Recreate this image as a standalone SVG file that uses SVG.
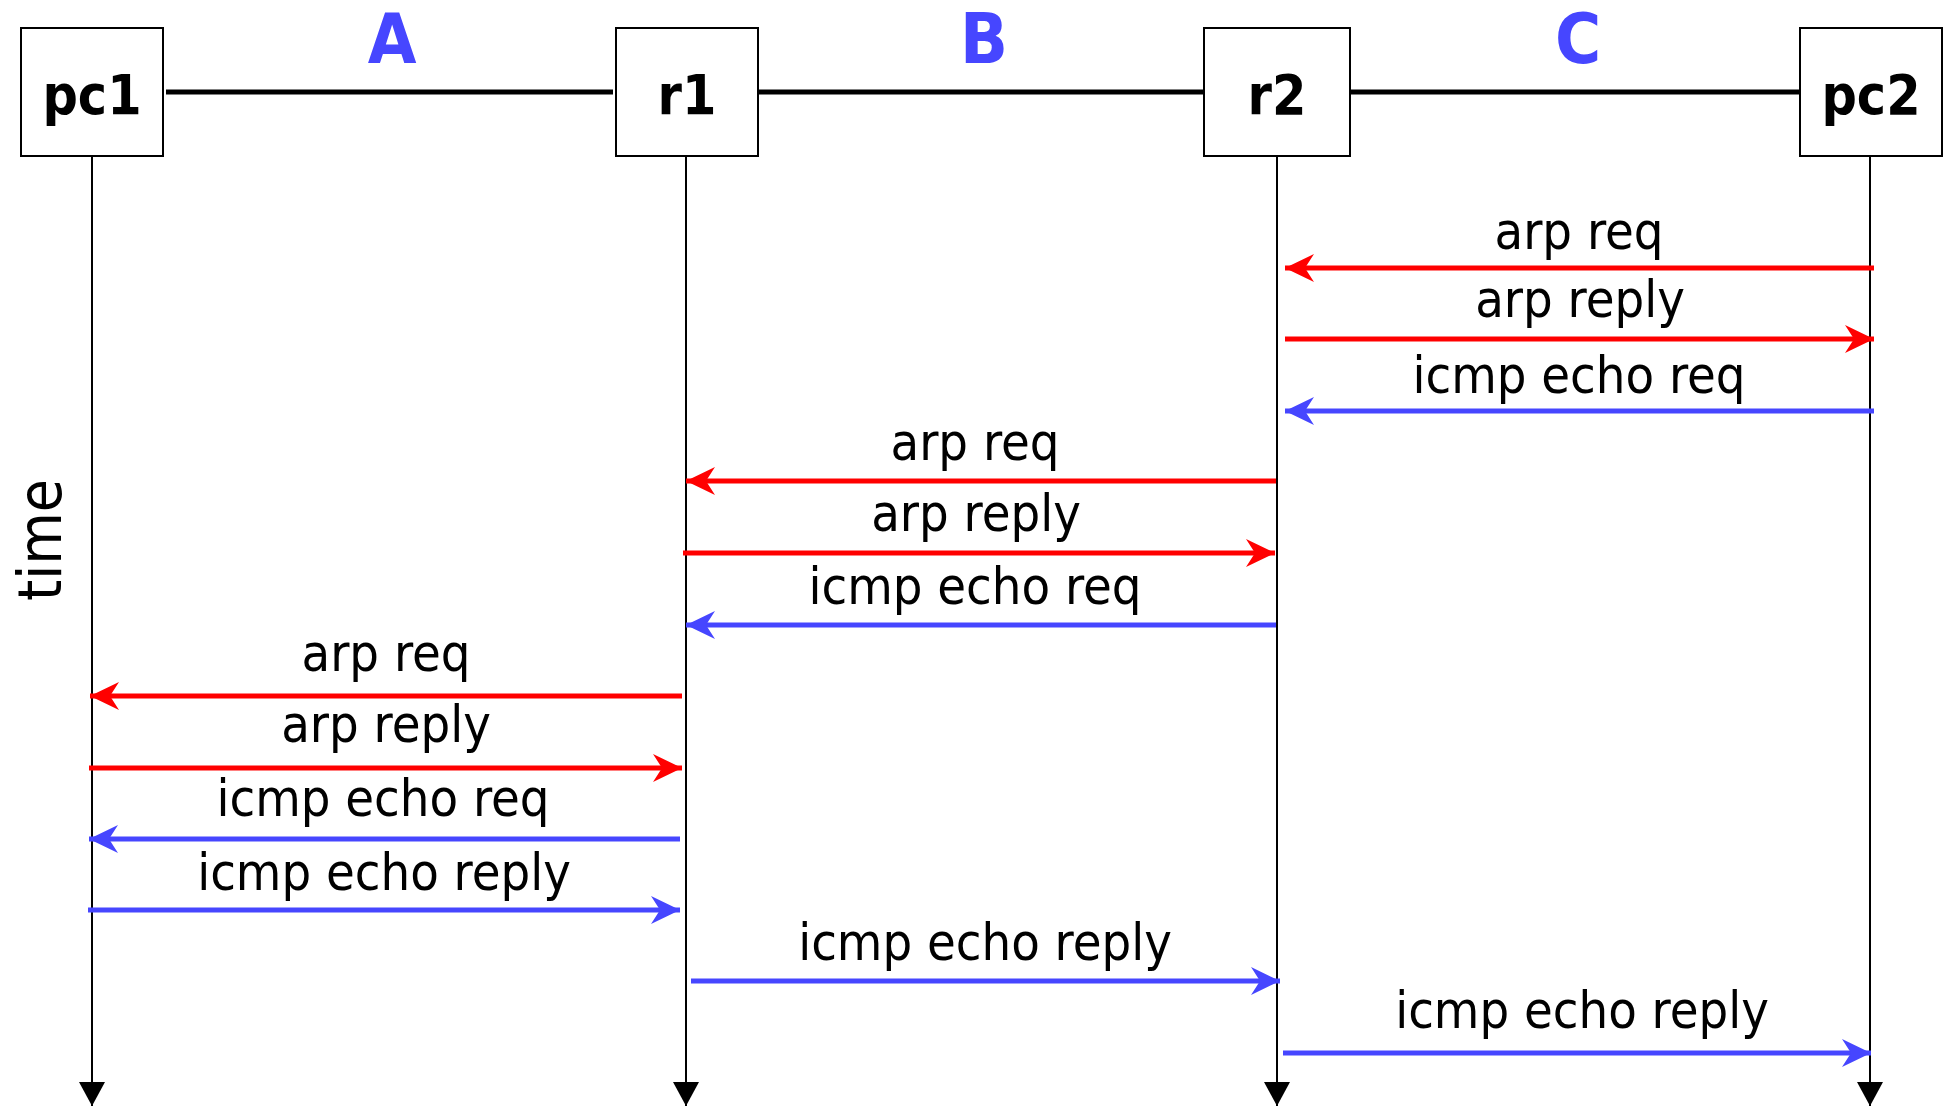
<svg xmlns="http://www.w3.org/2000/svg" width="1945" height="1106" viewBox="0 0 1945 1106">
  <style>
    .box { fill: #ffffff; stroke: #000000; stroke-width: 2; }
    .node-label { font-family: "DejaVu Sans Condensed", "DejaVu Sans", sans-serif; font-stretch: condensed; font-weight: bold; font-size: 55px; text-anchor: middle; fill: #000000; }
    .seg-label { font-family: "DejaVu Sans Condensed", "DejaVu Sans", sans-serif; font-stretch: condensed; font-weight: bold; font-size: 70px; text-anchor: middle; fill: #4646ff; }
    .msg-label { font-family: "DejaVu Sans Condensed", "DejaVu Sans", sans-serif; font-stretch: condensed; font-size: 52px; text-anchor: middle; fill: #000000; }
    .axis-label { font-family: "DejaVu Sans Condensed", "DejaVu Sans", sans-serif; font-stretch: condensed; font-size: 60px; text-anchor: middle; fill: #000000; }
    .link { stroke: #000000; stroke-width: 5; }
    .lifeline { stroke: #000000; stroke-width: 2; fill: none; marker-end: url(#tick); }
    .arp { stroke: #ff0000; stroke-width: 5; fill: none; marker-end: url(#head-red); }
    .icmp { stroke: #4646ff; stroke-width: 5; fill: none; marker-end: url(#head-blue); }
  </style>
  <defs>
    <marker id="head-red" markerUnits="userSpaceOnUse" viewBox="-30 -15 32 30" refX="0" refY="0" markerWidth="32" markerHeight="30" orient="auto">
      <path d="M0,0 L-29,-14 L-20,0 L-29,14 Z" fill="#ff0000"/>
    </marker>
    <marker id="head-blue" markerUnits="userSpaceOnUse" viewBox="-30 -15 32 30" refX="0" refY="0" markerWidth="32" markerHeight="30" orient="auto">
      <path d="M0,0 L-29,-14 L-20,0 L-29,14 Z" fill="#4646ff"/>
    </marker>
    <marker id="tick" markerUnits="userSpaceOnUse" viewBox="-26 -14 28 28" refX="0" refY="0" markerWidth="28" markerHeight="28" orient="auto">
      <path d="M0,0 L-24,-13 L-24,13 Z" fill="#000000"/>
    </marker>
  </defs>

  <rect width="1945" height="1106" fill="#ffffff"/>

  <!-- network links between hosts -->
  <g id="links">
    <line class="link" x1="166" y1="92" x2="613" y2="92"/>
    <line class="link" x1="757" y1="92" x2="1203" y2="92"/>
    <line class="link" x1="1351" y1="92" x2="1799" y2="92"/>
    <text class="seg-label" x="392" y="63">A</text>
    <text class="seg-label" x="984" y="63">B</text>
    <text class="seg-label" x="1578" y="63">C</text>
  </g>

  <!-- lifelines running down the time axis -->
  <g id="lifelines">
    <line class="lifeline" x1="92" y1="156" x2="92" y2="1106"/>
    <line class="lifeline" x1="686" y1="156" x2="686" y2="1106"/>
    <line class="lifeline" x1="1277" y1="156" x2="1277" y2="1106"/>
    <line class="lifeline" x1="1870" y1="156" x2="1870" y2="1106"/>
  </g>

  <g id="pc1">
    <rect class="box" x="21" y="28" width="142" height="128"/>
    <text class="node-label" x="92" y="114">pc1</text>
  </g>
  <g id="r1">
    <rect class="box" x="616" y="28" width="142" height="128"/>
    <text class="node-label" x="687" y="114">r1</text>
  </g>
  <g id="r2">
    <rect class="box" x="1204" y="28" width="146" height="128"/>
    <text class="node-label" x="1277" y="114">r2</text>
  </g>
  <g id="pc2">
    <rect class="box" x="1800" y="28" width="142" height="128"/>
    <text class="node-label" x="1871" y="114">pc2</text>
  </g>

  <text class="axis-label" transform="translate(61,540) rotate(-90)">time</text>

  <!-- messages -->
  <g id="connectors">
    <line class="arp" x1="1874" y1="268" x2="1285" y2="268"/>
    <text class="msg-label" x="1579" y="249">arp req</text>

    <line class="arp" x1="1285" y1="339" x2="1874" y2="339"/>
    <text class="msg-label" x="1580" y="317">arp reply</text>

    <line class="icmp" x1="1874" y1="411" x2="1285" y2="411"/>
    <text class="msg-label" x="1579" y="393">icmp echo req</text>

    <line class="arp" x1="1276" y1="481" x2="686" y2="481"/>
    <text class="msg-label" x="975" y="460">arp req</text>

    <line class="arp" x1="683" y1="553" x2="1275" y2="553"/>
    <text class="msg-label" x="976" y="531">arp reply</text>

    <line class="icmp" x1="1276" y1="625" x2="686" y2="625"/>
    <text class="msg-label" x="975" y="604">icmp echo req</text>

    <line class="arp" x1="682" y1="696" x2="90" y2="696"/>
    <text class="msg-label" x="386" y="671">arp req</text>

    <line class="arp" x1="89" y1="768" x2="682" y2="768"/>
    <text class="msg-label" x="386" y="742">arp reply</text>

    <line class="icmp" x1="680" y1="839" x2="89" y2="839"/>
    <text class="msg-label" x="383" y="816">icmp echo req</text>

    <line class="icmp" x1="88" y1="910" x2="680" y2="910"/>
    <text class="msg-label" x="384" y="890">icmp echo reply</text>

    <line class="icmp" x1="691" y1="981" x2="1280" y2="981"/>
    <text class="msg-label" x="985" y="960">icmp echo reply</text>

    <line class="icmp" x1="1283" y1="1053" x2="1871" y2="1053"/>
    <text class="msg-label" x="1582" y="1028">icmp echo reply</text>
  </g>
</svg>
